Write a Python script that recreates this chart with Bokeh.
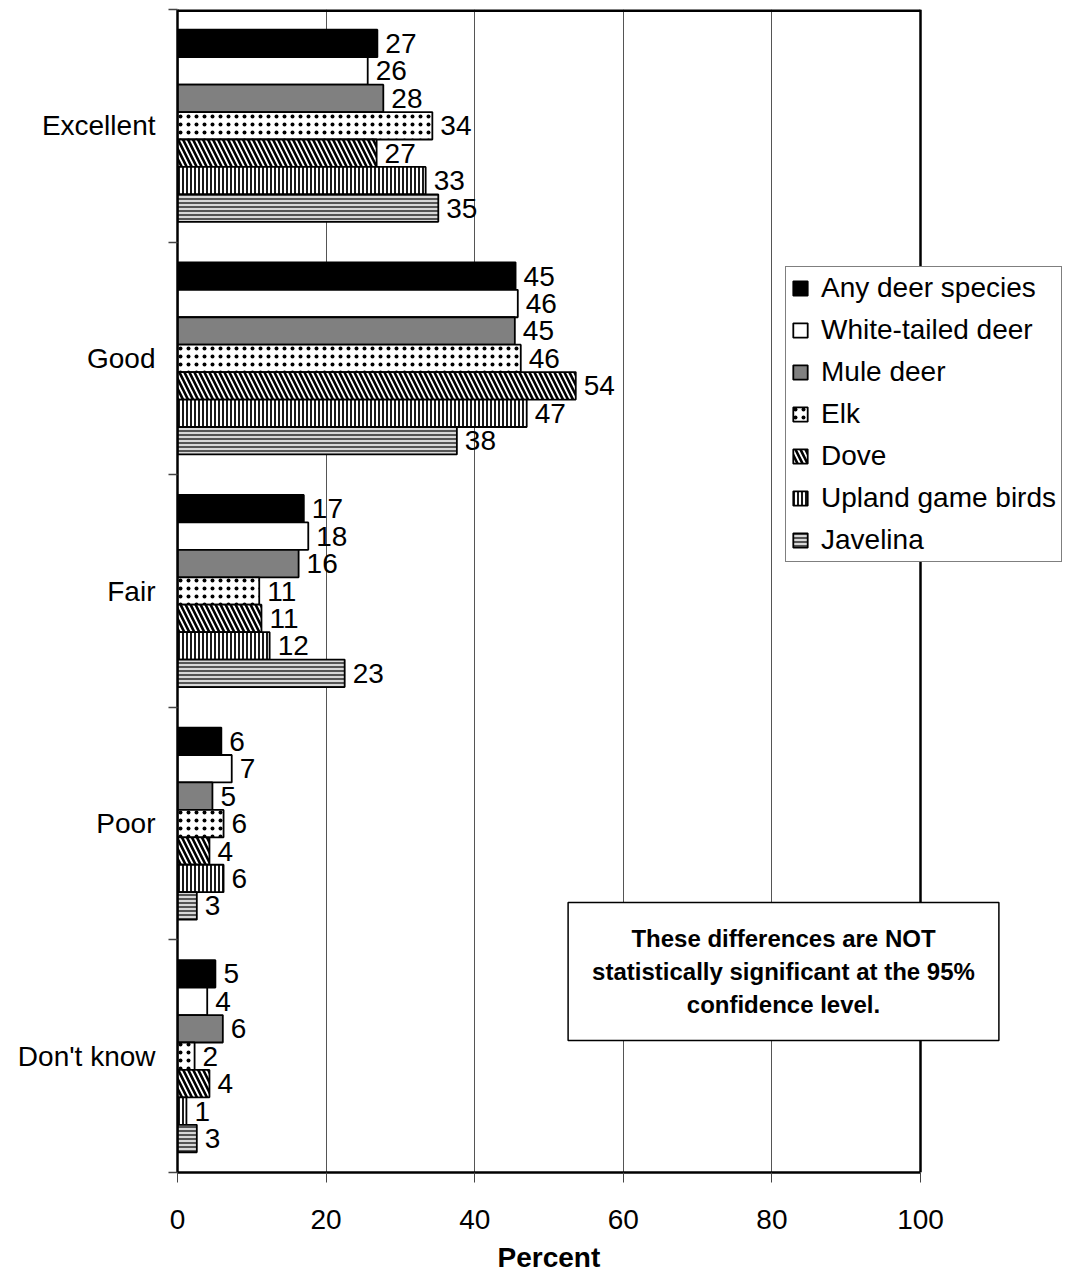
from bokeh.plotting import figure
from bokeh.models import (ColumnDataSource, Range1d, FixedTicker, Legend, LegendItem, Label, Title)
from bokeh.core.properties import value
from bokeh.embed import file_html
from bokeh.resources import INLINE

categories = ["Excellent", "Good", "Fair", "Poor", "Don't know"]
series = ["Any deer species", "White-tailed deer", "Mule deer", "Elk", "Dove",
          "Upland game birds", "Javelina"]

any_deer = [26.9, 45.5, 17.0, 5.9, 5.1]
white_tailed = [25.6, 45.8, 17.6, 7.3, 4.0]
mule_deer = [27.7, 45.4, 16.3, 4.7, 6.1]
elk = [34.3, 46.2, 11.0, 6.2, 2.3]
dove = [26.8, 53.6, 11.3, 4.3, 4.3]
upland = [33.4, 47.0, 12.4, 6.2, 1.2]
javelina = [35.1, 37.6, 22.5, 2.6, 2.6]

any_deer_lbl = [27, 45, 17, 6, 5]
white_tailed_lbl = [26, 46, 18, 7, 4]
mule_deer_lbl = [28, 45, 16, 5, 6]
elk_lbl = [34, 46, 11, 6, 2]
dove_lbl = [27, 54, 11, 4, 4]
upland_lbl = [33, 47, 12, 6, 1]
javelina_lbl = [35, 38, 23, 3, 3]

x_ticks = [0, 20, 40, 60, 80, 100]
x_max = 100
x_title = "Percent"
note = "These differences are NOT\nstatistically significant at the 95%\nconfidence level."

values = [any_deer, white_tailed, mule_deer, elk, dove, upland, javelina]
labels = [any_deer_lbl, white_tailed_lbl, mule_deer_lbl, elk_lbl, dove_lbl, upland_lbl, javelina_lbl]

styles = [
    dict(fill_color="black"),
    dict(fill_color="white"),
    dict(fill_color="#808080"),
    dict(fill_color="white", hatch_pattern="dot", hatch_color="black", hatch_scale=8, hatch_weight=0.5),
    dict(fill_color="white", hatch_pattern="left_diagonal_line", hatch_color="black", hatch_scale=10, hatch_weight=2.6),
    dict(fill_color="white", hatch_pattern="vertical_line", hatch_color="black", hatch_scale=4, hatch_weight=1.8),
    dict(fill_color="#d8d8d8", hatch_pattern="horizontal_line", hatch_color="#333333", hatch_scale=4, hatch_weight=1.6),
]

FONT = "Liberation Sans"
n_cat = len(categories)
bar_h = 0.118

W, H = 1074, 1282
left_px, top_px, frame_right_px, bottom_px = 177, 9, 920, 1172
px_per_unit = (frame_right_px - left_px) / x_max

p = figure(width=W, height=H, output_backend="svg", toolbar_location=None,
           x_range=Range1d(0, (W - left_px) / px_per_unit), y_range=Range1d(0, n_cat),
           min_border_left=left_px, min_border_right=0, min_border_top=top_px,
           min_border_bottom=H - bottom_px)
p.background_fill_color = "white"
p.border_fill_color = "white"
p.outline_line_color = None

# plot-area border (top and right) at x = 0..100
p.segment(x0=[0], y0=[n_cat], x1=[x_max], y1=[n_cat], line_color="black", line_width=5)
p.segment(x0=[x_max], y0=[0], x1=[x_max], y1=[n_cat], line_color="black", line_width=2.5)

items = []
for j, (name, vals, lbls, st) in enumerate(zip(series, values, labels, styles)):
    ys = [(n_cat - 1 - i) + 0.5 + (3 - j) * bar_h for i in range(n_cat)]
    src = ColumnDataSource(dict(y=ys, x=vals, lbl=[str(v) for v in lbls]))
    r = p.hbar(y="y", right="x", left=0, height=bar_h, source=src,
               line_color="black", line_width=1.8, **st)
    p.text(x="x", y="y", text="lbl", source=src, x_offset=8,
           text_align="left", text_baseline="middle",
           text_font=value(FONT), text_font_size="28px", text_color="black")
    items.append(LegendItem(label=name, renderers=[r]))

# x axis
p.xaxis.ticker = FixedTicker(ticks=x_ticks, minor_ticks=[])
p.xaxis.bounds = (0, x_max)
p.xaxis.major_label_text_font = FONT
p.xaxis.major_label_text_font_size = "28px"
p.xaxis.major_label_text_color = "black"
p.xaxis.major_label_standoff = 27
p.xaxis.major_tick_out = 10
p.xaxis.major_tick_in = 0
p.xaxis.major_tick_line_color = "#444444"
p.xaxis.axis_line_width = 2.5
p.xaxis.axis_line_color = "black"

# axis title centred under 0..100 (frame extends further right for legend/note)
title_w = 103
p.add_layout(Title(text=x_title, align="left",
                   offset=(left_px + (frame_right_px - left_px) / 2 - title_w / 2) - left_px,
                   text_font=FONT, text_font_style="bold", text_font_size="28px",
                   text_color="black", standoff=17), "below")

# y axis: labels at category centres, ticks at category boundaries
centres = [i + 0.5 for i in range(n_cat)]
p.yaxis.ticker = FixedTicker(ticks=centres, minor_ticks=list(range(n_cat + 1)))
p.yaxis.major_label_overrides = {c: categories[n_cat - 1 - i] for i, c in enumerate(centres)}
p.yaxis.major_label_text_font = FONT
p.yaxis.major_label_text_font_size = "28px"
p.yaxis.major_label_text_color = "black"
p.yaxis.major_label_standoff = 13
p.yaxis.major_tick_out = 0
p.yaxis.major_tick_in = 0
p.yaxis.minor_tick_out = 9
p.yaxis.minor_tick_in = 0
p.yaxis.minor_tick_line_color = "#444444"
p.yaxis.minor_tick_line_width = 1.5
p.yaxis.axis_line_width = 2.5
p.yaxis.axis_line_color = "black"

p.xgrid.grid_line_color = "#555555"
p.xgrid.grid_line_width = 1
p.xgrid.ticker = FixedTicker(ticks=x_ticks[1:-1])
p.ygrid.grid_line_color = None

legend = Legend(items=items, location=(608, 610))
legend.label_text_font = FONT
legend.label_text_font_size = "28px"
legend.label_text_color = "black"
legend.glyph_width = 18
legend.glyph_height = 18
legend.label_standoff = 12
legend.spacing = 10
legend.padding = 5
legend.margin = 0
legend.border_line_color = "black"
legend.border_line_width = 1.5
legend.background_fill_color = "white"
legend.background_fill_alpha = 1
p.add_layout(legend)

note_label = Label(x=606, y=201, x_units="screen", y_units="screen", text=note,
                   text_align="center", text_baseline="middle",
                   text_font=FONT, text_font_style="bold", text_font_size="24px",
                   text_color="black", text_line_height=1.24,
                   border_line_color="black", border_line_width=1.5,
                   background_fill_color="white", background_fill_alpha=1,
                   padding=dict(x=24, y=22))
p.add_layout(note_label)

open("out.html", "w").write(file_html(p, INLINE))
